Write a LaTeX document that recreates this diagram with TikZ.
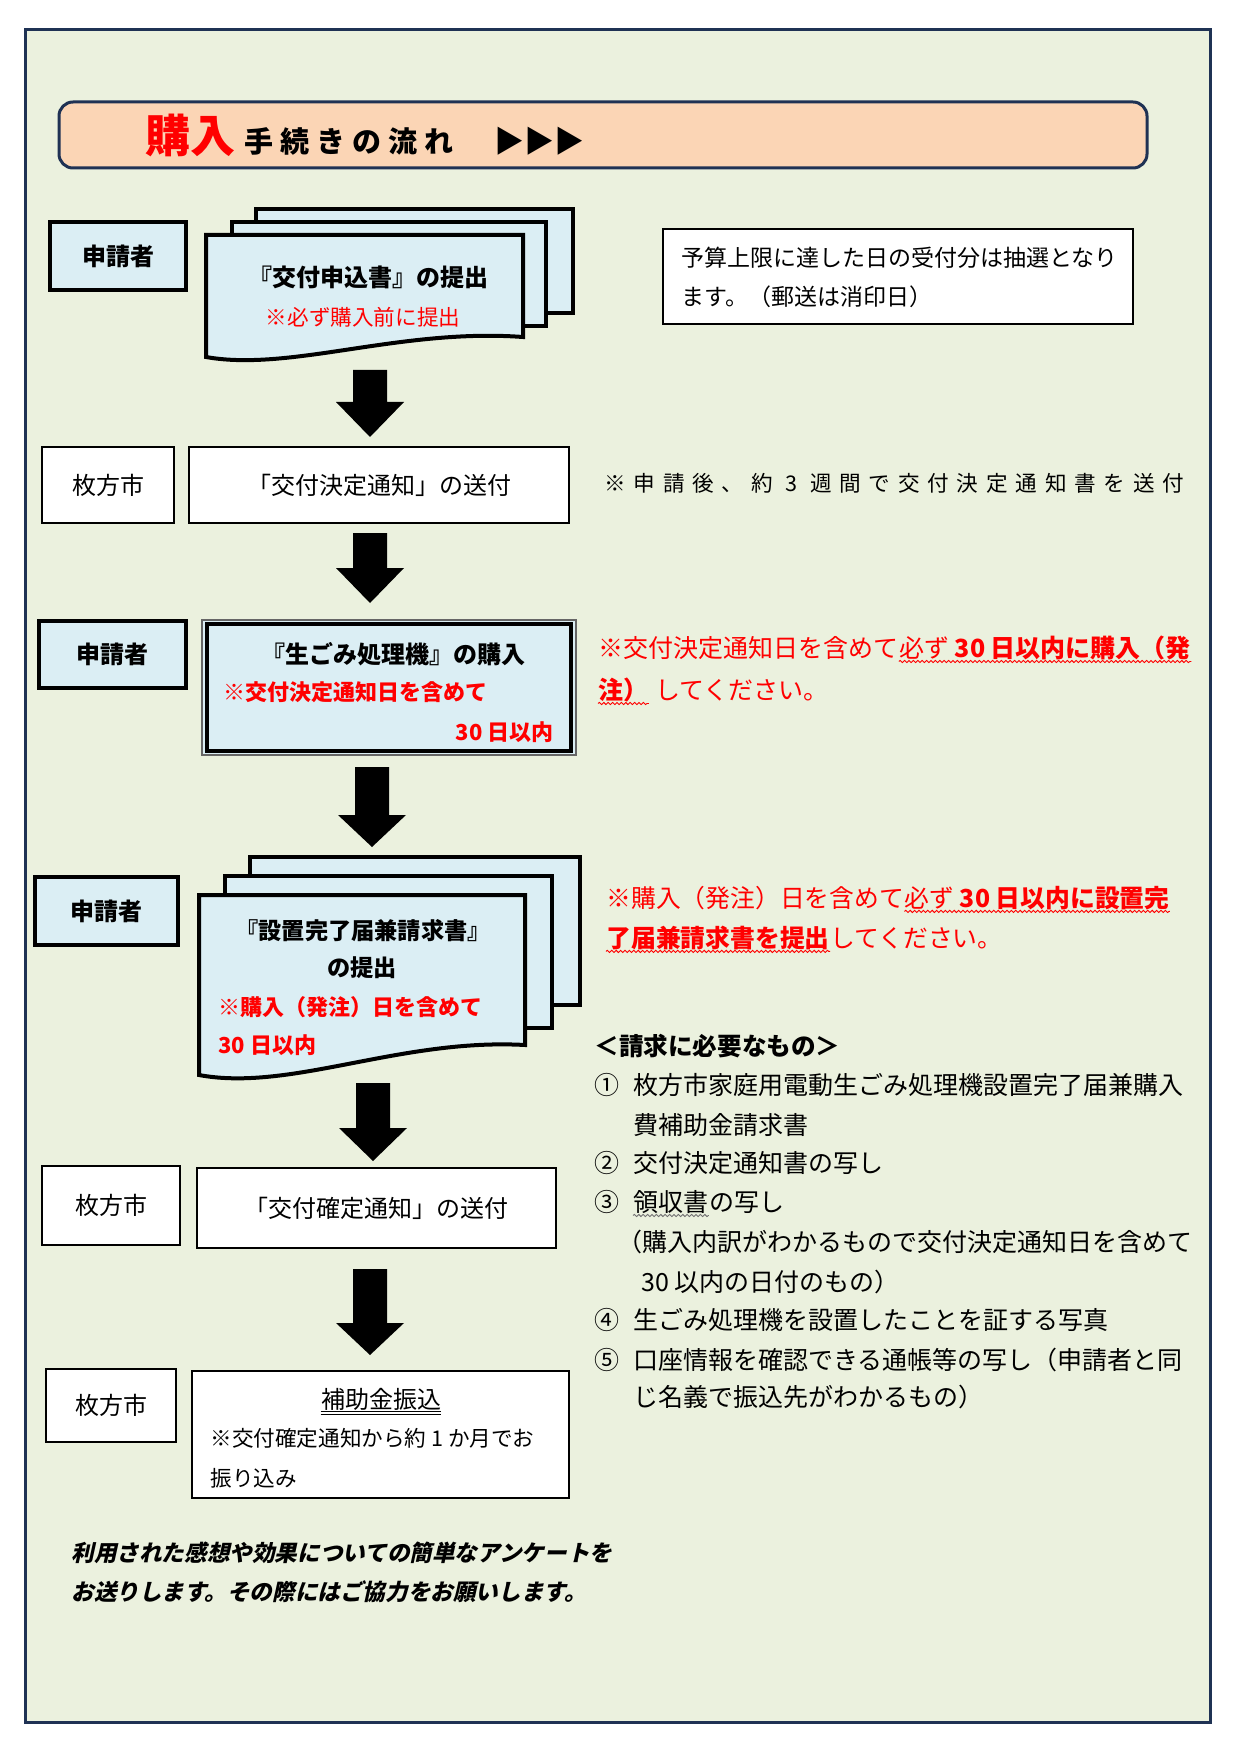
\documentclass[tikz,border=0pt]{standalone}
\usepackage{fontspec}
\setmainfont{Noto Sans CJK JP}
\newfontfamily\slantjp[FakeSlant=0.22]{Noto Sans CJK JP}
\usetikzlibrary{decorations.pathmorphing,calc}
\definecolor{bgc}{RGB}{235,241,222}
\definecolor{framec}{RGB}{31,50,84}
\definecolor{peach}{RGB}{251,213,181}
\definecolor{lblue}{RGB}{219,238,244}
\definecolor{jred}{RGB}{255,0,0}
\newcommand\fs[1]{\fontsize{#1}{#1}\selectfont}
\newcommand\jstrut{\rule[-0.12em]{0pt}{1em}}
\newcommand\blockarr[4]{%
  \fill[black] (#1-17,#2) -- (#1+17,#2) -- (#1+17,#3) -- (#1+34,#3) -- (#1,#4) -- (#1-34,#3) -- (#1-17,#3) -- cycle;}
\tikzset{
  jt/.style={inner sep=0pt, execute at begin node=\jstrut},
  tbox/.style={draw=black, line width=1.2pt, fill=white, inner sep=0pt, execute at begin node=\jstrut},
  bbox/.style={draw=black, line width=2.4pt, fill=lblue, inner sep=0pt, execute at begin node=\jstrut},
  docsh/.style={draw=black, line width=2pt, fill=lblue, line join=miter},
  wavy/.style={draw=jred, line width=0.45pt, decorate, decoration={snake, amplitude=0.55pt, segment length=2.2pt}},
  graywavy/.style={wavy, draw=black!55},
}
\begin{document}
\begin{tikzpicture}[x=0.5pt,y=-0.5pt]
\useasboundingbox (0,0) rectangle (1240,1754);
\fill[white] (0,0) rectangle (1240,1754);
\draw[framec, line width=1.5pt, fill=bgc] (25,30) rectangle (1210,1722);

% title banner
\node[draw=framec, line width=1.5pt, fill=peach, rounded corners=7pt, minimum width=544pt, minimum height=33pt] (title) at (603,135) {};
\node[anchor=base west, inner sep=0pt, text=jred, font=\bfseries\fs{22.5}] (t1) at (145,153) {購入};
\node[anchor=base west, inner sep=0pt, font=\bfseries\fs{14.5}\addfontfeatures{LetterSpace=24}] (t2) at (244,153) {手続きの流れ};
\node[anchor=base west, inner sep=0pt, font=\fs{15}] (t3) at (494,153) {▶▶▶};

% row 1
\node[bbox, minimum width=68pt, minimum height=34pt, font=\bfseries\fs{12}] (s1) at (118,256) {申請者};
\draw[docsh] (256,209) rectangle (573,313);
\draw[docsh] (232,222) rectangle (546,326);
\draw[docsh] (206,235) -- (523,235) -- (523,337) .. controls (400,328) and (290,372) .. (206,357) -- cycle;
\node[jt, font=\bfseries\fs{12}] (d1a) at (368,277) {『交付申込書』の提出};
\node[jt, text=jred, font=\fs{10.8}] (d1b) at (363,317) {※必ず購入前に提出};

\node[draw=black, line width=1.2pt, fill=white, minimum width=235pt, minimum height=47.5pt] (note) at (898,276.5) {};
\node[jt, anchor=west, font=\fs{11.5}] (n1) at (681,258) {予算上限に達した日の受付分は抽選となり};
\node[jt, anchor=west, font=\fs{11.5}] (n2) at (681,297) {ます。（郵送は消印日）};

\blockarr{370}{370}{402}{437}

% row 2
\node[tbox, minimum width=66pt, minimum height=38pt, font=\fs{12}] (c1) at (108,485) {枚方市};
\node[tbox, minimum width=190pt, minimum height=38pt, font=\fs{12}] (k1) at (379,485) {「交付決定通知」の送付};
\node[jt, anchor=west, font=\fs{10.8}\addfontfeatures{LetterSpace=36}] (sn) at (604,483) {※申請後、約 3 週間で交付決定通知書を送付};

\blockarr{370}{533}{568}{603}

% row 3
\node[bbox, minimum width=73.5pt, minimum height=33.5pt, font=\bfseries\fs{12}] (s2) at (112.5,654.5) {申請者};
\node[draw=black!60, line width=0.6pt, fill=lblue, minimum width=187pt, minimum height=67.5pt] (g0) at (389,687.5) {};
\node[draw=black, line width=2.2pt, minimum width=182pt, minimum height=63.5pt] (g1) at (389,687.5) {};
\node[jt, font=\bfseries\fs{12}] (g2) at (393,654) {『生ごみ処理機』の購入};
\node[jt, anchor=west, text=jred, font=\bfseries\fs{11}] (g3) at (223,692) {※交付決定通知日を含めて};
\node[jt, anchor=east, text=jred, font=\bfseries\fs{11}] (g4) at (554,732) {30 日以内};

\node[jt, anchor=west, text=jred, font=\fs{12.5}] (r1a) at (598,648) {※交付決定通知日を含めて};
\node[jt, anchor=west, text=jred, font=\fs{12.5}] (r1b) at (r1a.east) {必ず \textbf{30 日以内に購入（発}};
\draw[wavy] ([yshift=-0.3pt]r1b.south west) -- ([yshift=-0.3pt]r1b.south east);
\node[jt, anchor=west, text=jred, font=\bfseries\fs{12.5}] (r1c) at (598,690) {注）};
\draw[wavy] ([yshift=-0.3pt]r1c.south west) -- ([yshift=-0.3pt]r1c.south east);
\node[jt, anchor=west, text=jred, font=\fs{12.5}] (r1d) at ([xshift=3pt]r1c.east) {してください。};

\blockarr{372}{767}{815}{847}

% row 4
\node[bbox, minimum width=71.5pt, minimum height=34pt, font=\bfseries\fs{12}] (s3) at (106.5,911) {申請者};
\draw[docsh] (250,857) rectangle (580,1005);
\draw[docsh] (225,876) rectangle (552,1028);
\draw[docsh] (199,895) -- (525,895) -- (525,1045) .. controls (400,1038) and (290,1092) .. (199,1075) -- cycle;
\node[jt, font=\bfseries\fs{11.6}] (d2a) at (363,931) {『設置完了届兼請求書』};
\node[jt, font=\bfseries\fs{11.6}] (d2b) at (362,968) {の提出};
\node[jt, anchor=west, text=jred, font=\bfseries\fs{11}] (d2c) at (218,1007) {※購入（発注）日を含めて};
\node[jt, anchor=west, text=jred, font=\bfseries\fs{11}] (d2d) at (218,1045) {30 日以内};

\node[jt, anchor=west, text=jred, font=\fs{12.4}] (r2a) at (606,898) {※購入（発注）日を含めて};
\node[jt, anchor=west, text=jred, font=\fs{12.4}] (r2b) at (r2a.east) {必ず \textbf{30 日以内に設置完}};
\draw[wavy] ([yshift=-0.3pt]r2b.south west) -- ([yshift=-0.3pt]r2b.south east);
\node[jt, anchor=west, text=jred, font=\bfseries\fs{12.4}] (r2c) at (606,938) {了届兼請求書を提出};
\draw[wavy] ([yshift=-0.3pt]r2c.south west) -- ([yshift=-0.3pt]r2c.south east);
\node[jt, anchor=west, text=jred, font=\fs{12.4}] (r2d) at (r2c.east) {してください。};

% list
\node[jt, anchor=west, font=\bfseries\fs{12.3}] (h) at (594,1046) {＜請求に必要なもの＞};
\node[jt, anchor=west, font=\fs{12.5}] (i1) at (594,1085) {①};
\node[jt, anchor=west, font=\fs{12.5}] (i1a) at (633,1085) {枚方市家庭用電動生ごみ処理機設置完了届兼購入};
\node[jt, anchor=west, font=\fs{12.5}] (i1b) at (633,1125) {費補助金請求書};
\node[jt, anchor=west, font=\fs{12.5}] (i2) at (594,1163) {②};
\node[jt, anchor=west, font=\fs{12.5}] (i2a) at (633,1163) {交付決定通知書の写し};
\node[jt, anchor=west, font=\fs{12.5}] (i3) at (594,1202) {③};
\node[jt, anchor=west, font=\fs{12.5}] (i3a) at (633,1202) {領収書};
\draw[graywavy] ([yshift=-0.3pt]i3a.south west) -- ([yshift=-0.3pt]i3a.south east);
\node[jt, anchor=west, font=\fs{12.5}] (i3b) at (i3a.east) {の写し};
\node[jt, anchor=west, font=\fs{12.5}] (i3c) at (617,1242) {（購入内訳がわかるもので交付決定通知日を含めて};
\node[jt, anchor=west, font=\fs{12.5}] (i3d) at (641,1282) {30 以内の日付のもの）};
\node[jt, anchor=west, font=\fs{12.5}] (i4) at (594,1320) {④};
\node[jt, anchor=west, font=\fs{12.5}] (i4a) at (633,1320) {生ごみ処理機を設置したことを証する写真};
\node[jt, anchor=west, font=\fs{12.5}] (i5) at (594,1360) {⑤};
\node[jt, anchor=west, font=\fs{12.5}] (i5a) at (633,1360) {口座情報を確認できる通帳等の写し（申請者と同};
\node[jt, anchor=west, font=\fs{12.5}] (i5b) at (633,1397) {じ名義で振込先がわかるもの）};

\blockarr{373}{1083}{1128}{1161}

% row 5
\node[tbox, minimum width=69pt, minimum height=39.5pt, font=\fs{12}] (c2) at (111,1205.5) {枚方市};
\node[tbox, minimum width=179.5pt, minimum height=40pt, font=\fs{12}] (k2) at (376.5,1208) {「交付確定通知」の送付};

\blockarr{370}{1269}{1323}{1355}

% row 6
\node[tbox, minimum width=65pt, minimum height=36.5pt, font=\fs{12}] (c3) at (111,1405.5) {枚方市};
\node[tbox, minimum width=188.5pt, minimum height=63.5pt] (f0) at (380.5,1434.5) {};
\node[jt, font=\fs{12}] (f1) at (381,1399) {補助金振込};
\draw[black, line width=0.5pt] ([yshift=-0.2pt]f1.south west) -- ([yshift=-0.2pt]f1.south east);
\draw[black, line width=0.5pt] ([yshift=-1.6pt]f1.south west) -- ([yshift=-1.6pt]f1.south east);
\node[jt, anchor=west, font=\fs{10.8}] (f2) at (210,1438) {※交付確定通知から約 1 か月でお};
\node[jt, anchor=west, font=\fs{10.8}] (f3) at (210,1478) {振り込み};

% closing text
\node[jt, anchor=west, font=\slantjp\bfseries\fs{11.3}] (q1) at (71,1553) {利用された感想や効果についての簡単なアンケートを};
\node[jt, anchor=west, font=\slantjp\bfseries\fs{11.3}] (q2) at (71,1592) {お送りします。その際にはご協力をお願いします。};
\end{tikzpicture}
\end{document}
